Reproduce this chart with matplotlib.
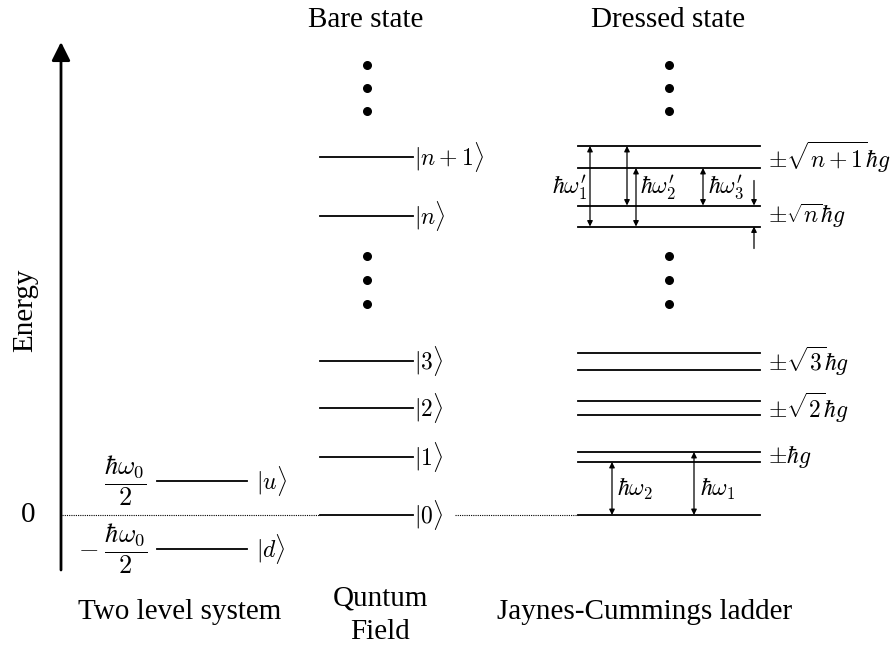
import matplotlib.pyplot as plt
import numpy as np

plt.rcParams['font.family'] = 'Liberation Serif'
plt.rcParams['mathtext.fontset'] = 'cm'

# energies in drawing units, zero at the ground level
two_level = [34, -34]
two_level_labels = [r'$|u\rangle$', r'$|d\rangle$']
two_level_values = [r'$\dfrac{\hbar\omega_0}{2}$', r'$-\;\dfrac{\hbar\omega_0}{2}$']

bare_levels = [0, 58, 107, 154, 299, 358]
bare_labels = [r'$|0\rangle$', r'$|1\rangle$', r'$|2\rangle$', r'$|3\rangle$',
               r'$|n\rangle$', r'$|n+1\rangle$']

# dressed doublets: centre and half splitting (first entry is the ground state)
dressed_centres = [0, 58, 107, 154, 299, 358]
dressed_half = [0, 5, 7, 8.5, 10.5, 11]
dressed_labels = ['', r'$\pm\hbar g$', r'$\pm\sqrt{2}\hbar g$', r'$\pm\sqrt{3}\hbar g$',
                  r'$\pm\sqrt{n}\hbar g$', r'$\pm\sqrt{n+1}\hbar g$']

# ellipsis dots, same height in both columns
dots = [450, 427, 404, 259, 235, 211]

fig = plt.figure(figsize=(8.96, 6.46), dpi=100)
ax = fig.add_axes([0, 0, 1, 1])
ax.set_xlim(0, 896)
ax.set_ylim(-131, 515)
ax.axis('off')

lw = 1.3

# energy axis
ax.annotate('', xy=(61, 473), xytext=(61, -55),
            arrowprops=dict(arrowstyle='-|>', lw=2, color='black',
                            mutation_scale=28, shrinkA=0, shrinkB=0))
ax.text(25, 205, 'Energy', rotation=90, ha='center', va='center', fontsize=21)
ax.text(28, 0, '0', ha='center', va='center', fontsize=21)

# zero reference, dotted
ax.plot([62, 320], [0, 0], ls=(0, (1, 1)), lw=0.8, color='black')
ax.plot([455, 578], [0, 0], ls=(0, (1, 1)), lw=0.8, color='black')

# two level system
for e, lab, val in zip(two_level, two_level_labels, two_level_values):
    ax.plot([157, 247], [e, e], color='black', lw=lw)
    ax.text(256, e, lab, ha='left', va='center', fontsize=17)
    ax.text(147, e, val, ha='right', va='center', fontsize=19)

# bare field states
for e, lab in zip(bare_levels, bare_labels):
    ax.plot([320, 413], [e, e], color='black', lw=lw)
    ax.text(414, e, lab, ha='left', va='center', fontsize=17)
ax.scatter(np.full(len(dots), 367), dots, s=30, color='black')

# dressed states
for c, h, lab in zip(dressed_centres, dressed_half, dressed_labels):
    if h == 0:
        ax.plot([578, 760], [c, c], color='black', lw=lw)
        continue
    for e in (c + h, c - h):
        ax.plot([578, 760], [e, e], color='black', lw=lw)
    ax.text(768, c, lab, ha='left', va='center', fontsize=17)
ax.scatter(np.full(len(dots), 669), dots, s=30, color='black')


def arrow(x, y0, y1, style='<|-|>'):
    ax.annotate('', xy=(x, y1), xytext=(x, y0),
                arrowprops=dict(arrowstyle=style, lw=0.9, color='black',
                                mutation_scale=8, shrinkA=0, shrinkB=0))


# transitions between neighbouring doublets
n_up = dressed_centres[5] + dressed_half[5]
n1_lo = dressed_centres[5] - dressed_half[5]
n_hi = dressed_centres[4] + dressed_half[4]
n_lo = dressed_centres[4] - dressed_half[4]
arrow(590, n_up, n_lo)
arrow(627, n_up, n_hi)
arrow(636, n1_lo, n_lo)
arrow(703, n1_lo, n_hi)
arrow(754, n_hi + 25, n_hi, style='-|>')
arrow(754, n_lo - 22, n_lo, style='-|>')
ax.text(587, 327, r"$\hbar\omega_1'$", ha='right', va='center', fontsize=17)
ax.text(640, 327, r"$\hbar\omega_2'$", ha='left', va='center', fontsize=17)
ax.text(708, 327, r"$\hbar\omega_3'$", ha='left', va='center', fontsize=17)

g1_lo = dressed_centres[1] - dressed_half[1]
g1_hi = dressed_centres[1] + dressed_half[1]
arrow(612, 0, g1_lo)
arrow(694, 0, g1_hi)
ax.text(617, 26, r'$\hbar\omega_2$', ha='left', va='center', fontsize=17)
ax.text(700, 26, r'$\hbar\omega_1$', ha='left', va='center', fontsize=17)

# headings
ax.text(366, 495, 'Bare state', ha='center', va='center', fontsize=21)
ax.text(668, 495, 'Dressed state', ha='center', va='center', fontsize=21)
ax.text(180, -97, 'Two level system', ha='center', va='center', fontsize=21)
ax.text(380, -100, 'Quntum\nField', ha='center', va='center', fontsize=21,
        linespacing=1.4)
ax.text(645, -97, 'Jaynes-Cummings ladder', ha='center', va='center', fontsize=21)

fig.savefig('out.png', dpi=100)
